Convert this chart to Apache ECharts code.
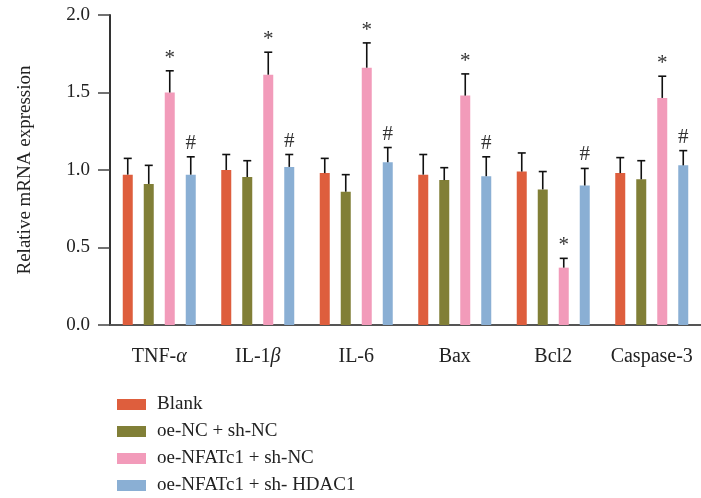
<!DOCTYPE html>
<html>
<head>
<meta charset="utf-8">
<script src="https://cdn.jsdelivr.net/npm/echarts@6/dist/echarts.min.js"></script>
<style>
  html, body { margin: 0; padding: 0; background: #fff; }
  #chart { width: 701px; height: 498px; }
</style>
</head>
<body>
<div id="chart"></div>
<script>
// Genes on the x axis
const categories = ['TNF-α', 'IL-1β', 'IL-6', 'Bax', 'Bcl2', 'Caspase-3'];
const groupNames = ['Blank', 'oe-NC + sh-NC', 'oe-NFATc1 + sh-NC', 'oe-NFATc1 + sh- HDAC1'];

// Mean relative expression per group
const blankMean   = [0.97, 1.00, 0.98, 0.97, 0.99, 0.98];
const oeNcMean    = [0.91, 0.955, 0.86, 0.935, 0.875, 0.94];
const nfatMean    = [1.50, 1.615, 1.66, 1.48, 0.37, 1.465];
const hdacMean    = [0.97, 1.02, 1.05, 0.96, 0.90, 1.03];

// Upper end of each error bar (mean + SD)
const blankUpper  = [1.075, 1.10, 1.075, 1.10, 1.11, 1.08];
const oeNcUpper   = [1.03, 1.06, 0.97, 1.015, 0.99, 1.06];
const nfatUpper   = [1.64, 1.76, 1.82, 1.62, 0.43, 1.605];
const hdacUpper   = [1.085, 1.10, 1.145, 1.085, 1.01, 1.125];

// Significance marks above each bar
const blankMarks  = ['', '', '', '', '', ''];
const oeNcMarks   = ['', '', '', '', '', ''];
const nfatMarks   = ['*', '*', '*', '*', '*', '*'];
const hdacMarks   = ['#', '#', '#', '#', '#', '#'];

const yTicks = [0.0, 0.5, 1.0, 1.5, 2.0];

const colors = ['#DE5E3D', '#817F37', '#F29BBA', '#8AAFD4'];
const means  = [blankMean, oeNcMean, nfatMean, hdacMean];
const uppers = [blankUpper, oeNcUpper, nfatUpper, hdacUpper];
const marks  = [blankMarks, oeNcMarks, nfatMarks, hdacMarks];

const FONT = '"Liberation Serif", "Times New Roman", serif';
const BAR_W = 10;
const BAR_STEP = 21; // bar width + gap, in px

const chart = echarts.init(document.getElementById('chart'), null, { renderer: 'canvas' });

const barSeries = groupNames.map((name, i) => ({
  name: name,
  type: 'bar',
  data: means[i],
  barWidth: BAR_W,
  barGap: '110%',
  itemStyle: { color: colors[i] },
  z: 2
}));

// Upward error bars with caps, plus the significance mark above each one
const errSeries = groupNames.map((name, i) => ({
  type: 'custom',
  name: name + ' error',
  z: 3,
  silent: true,
  data: means[i].map((m, k) => [k, m, uppers[i][k]]),
  renderItem: function (params, api) {
    const k = api.value(0);
    const base = api.coord([k, api.value(1)]);
    const top = api.coord([k, api.value(2)]);
    const x = base[0] + (i - 1.5) * BAR_STEP;
    const children = [
      { type: 'line', shape: { x1: x, y1: base[1], x2: x, y2: top[1] },
        style: { stroke: '#111', lineWidth: 1.6 } },
      { type: 'line', shape: { x1: x - 4, y1: top[1], x2: x + 4, y2: top[1] },
        style: { stroke: '#111', lineWidth: 1.6 } }
    ];
    const mk = marks[i][k];
    if (mk) {
      children.push({
        type: 'text',
        style: {
          text: mk, x: x, y: top[1] - (mk === '*' ? 2 : 3),
          align: 'center', verticalAlign: 'bottom',
          font: '21px ' + FONT, fill: '#333'
        }
      });
    }
    return { type: 'group', children: children };
  }
}));

const italicLabel = {
  'TNF-α': '{n|TNF-}{i|α}',
  'IL-1β': '{n|IL-1}{i|β}'
};

const option = {
  animation: false,
  textStyle: { fontFamily: FONT },
  grid: { left: 110, top: 15, width: 598, bottom: 173, containLabel: false },
  legend: {
    orient: 'vertical',
    left: 112,
    top: 390,
    height: 110,
    data: groupNames,
    icon: 'rect',
    itemWidth: 29,
    itemHeight: 11,
    itemGap: 8,
    textStyle: { fontFamily: FONT, fontSize: 19, color: '#222', padding: [0, 0, 0, 6] }
  },
  xAxis: {
    type: 'category',
    data: categories,
    axisLine: { lineStyle: { color: '#555', width: 2 } },
    axisTick: { alignWithLabel: true, length: 13, lineStyle: { color: '#444', width: 1.5 } },
    axisLabel: {
      interval: 0,
      margin: 22,
      fontSize: 20,
      color: '#222',
      fontFamily: FONT,
      formatter: v => italicLabel[v] || v,
      rich: {
        n: { fontSize: 20, fontFamily: FONT, color: '#222' },
        i: { fontSize: 20, fontFamily: FONT, fontStyle: 'italic', color: '#222' }
      }
    }
  },
  yAxis: {
    type: 'value',
    min: yTicks[0],
    max: yTicks[yTicks.length - 1],
    interval: 0.5,
    name: 'Relative mRNA expression',
    nameLocation: 'middle',
    nameGap: 75,
    nameTextStyle: { fontFamily: FONT, fontSize: 19, color: '#222' },
    axisLine: { show: true, lineStyle: { color: '#333', width: 2 } },
    axisTick: { show: true, length: 12, lineStyle: { color: '#444', width: 1.5 } },
    axisLabel: {
      margin: 20, fontSize: 19, color: '#222', fontFamily: FONT,
      formatter: v => v.toFixed(1)
    },
    splitLine: { show: false }
  },
  series: barSeries.concat(errSeries)
};

chart.setOption(option);
</script>
</body>
</html>
